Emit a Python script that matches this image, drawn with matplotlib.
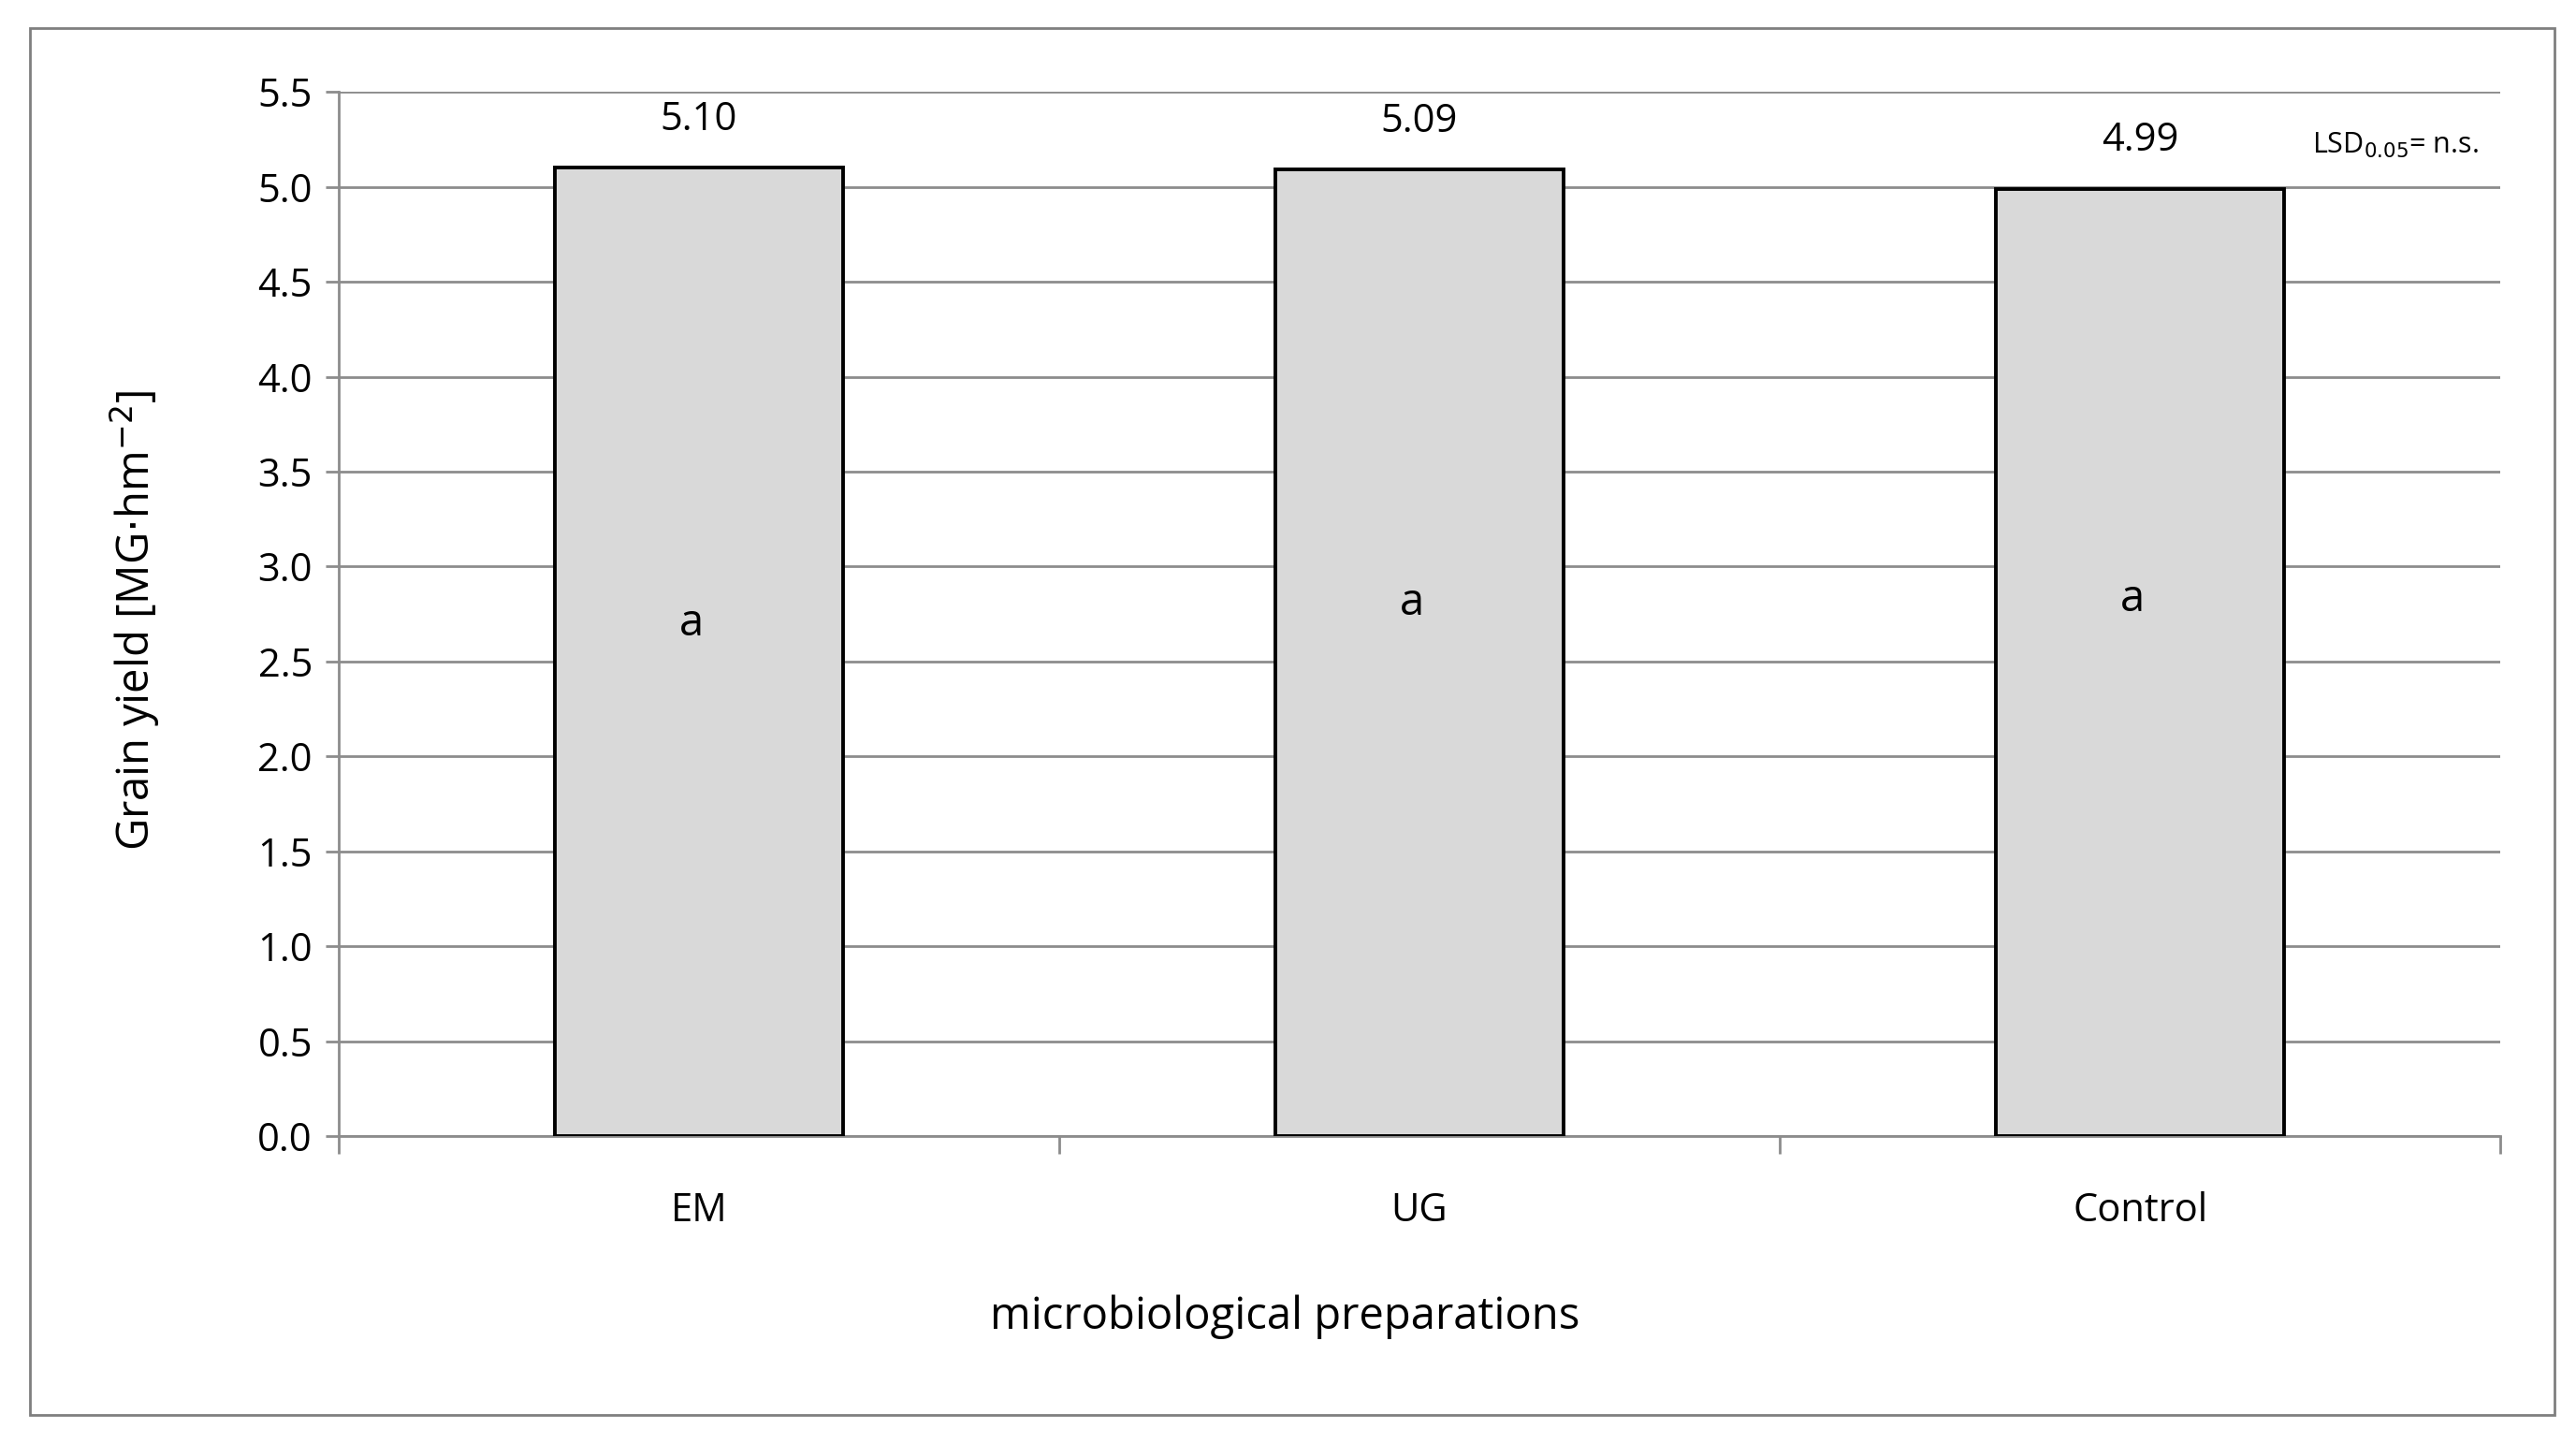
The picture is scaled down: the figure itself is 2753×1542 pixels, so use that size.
import matplotlib
matplotlib.use("Agg")
import matplotlib.pyplot as plt
from matplotlib.patches import Rectangle

categories = ["EM", "UG", "Control"]
values = [5.10, 5.09, 4.99]
value_labels = ["5.10", "5.09", "4.99"]
letters = ["a", "a", "a"]
letter_y = [2.70, 2.81, 2.83]
yticks = [0.0, 0.5, 1.0, 1.5, 2.0, 2.5, 3.0, 3.5, 4.0, 4.5, 5.0, 5.5]

plt.rcParams['font.family'] = ['Open Sans', 'DejaVu Sans']
fig = plt.figure(figsize=(27.53, 15.42), dpi=100)
fig.patches.append(Rectangle((18/1568, 1-863/880), (1555-18)/1568, (863-17)/880,
                             transform=fig.transFigure, fill=False, edgecolor='#7f7f7f', lw=2))
ax = fig.add_axes([206/1568, 1-693/880, (1522-206)/1568, (693-56)/880])
x = [i + 0.5 for i in range(len(categories))]
ax.bar(x, values, width=0.4, color='#d9d9d9', edgecolor='black', linewidth=2.8, zorder=3)
for xi, v, t in zip(x, values, value_labels):
    ax.text(xi, v + 0.15, t, ha='center', va='bottom', fontsize=30)
for xi, ly, t in zip(x, letter_y, letters):
    ax.text(xi - 0.01, ly, t, ha='center', va='center', fontsize=34)
ax.set_xlim(0, 3)
ax.set_ylim(0, 5.5)
ax.set_yticks(yticks)
ax.set_yticklabels([f"{t:.1f}" for t in yticks], fontsize=30)
ax.set_xticks([0, 1, 2, 3])
ax.set_xticklabels([])
ax.set_xticks(x, minor=True)
ax.set_xticklabels(categories, minor=True, fontsize=30)
ax.tick_params(axis='x', which='minor', length=0, pad=42)
ax.tick_params(axis='x', which='major', length=14, width=2, color='#8c8c8c')
ax.tick_params(axis='y', length=10, width=2, color='#8c8c8c', pad=10)
ax.yaxis.grid(True, color='#8c8c8c', lw=2, zorder=0)
ax.set_axisbelow(True)
for s in ['top', 'right']:
    ax.spines[s].set_visible(False)
for s in ['left', 'bottom']:
    ax.spines[s].set_color('#8c8c8c')
    ax.spines[s].set_linewidth(2)
fig.text(782/1568, 1-803/880, "microbiological preparations", fontsize=34, ha='center', va='center')
fig.text(82/1568, 1-378/880, "Grain yield [MG$\\cdot$hm$^{-2}$]", fontsize=34,
         ha='center', va='center', rotation=90)
ax.text(2.97, 5.22, "LSD$_{0.05}$= n.s.", ha='right', va='center', fontsize=22)
fig.savefig("out.png", dpi=100)
